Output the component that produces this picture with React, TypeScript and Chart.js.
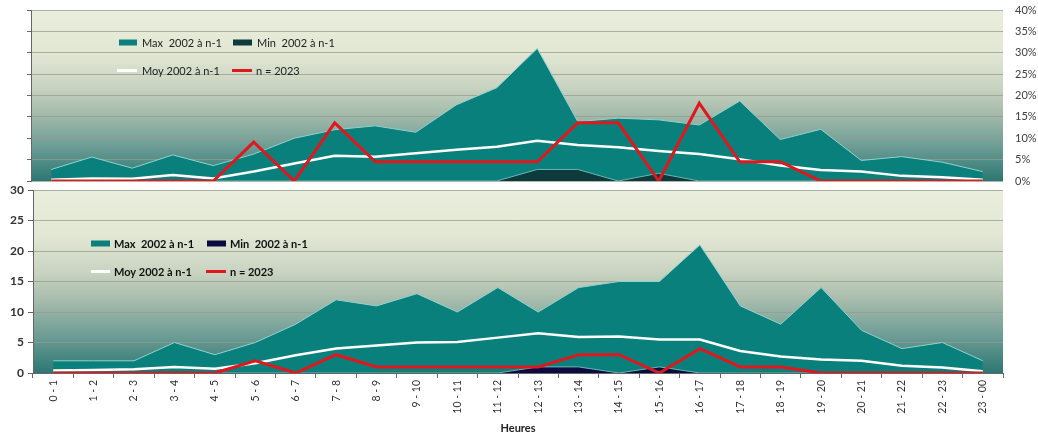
import React, { useEffect, useRef } from "react";
import { Chart, registerables } from "chart.js";

Chart.register(...registerables);

// ---------- DATA ----------
const hours = [
  "0 - 1", "1 - 2", "2 - 3", "3 - 4", "4 - 5", "5 - 6", "6 - 7", "7 - 8",
  "8 - 9", "9 - 10", "10 - 11", "11 - 12", "12 - 13", "13 - 14", "14 - 15",
  "15 - 16", "16 - 17", "17 - 18", "18 - 19", "19 - 20", "20 - 21", "21 - 22",
  "22 - 23", "23 - 00",
];

const seriesLabels = ["Max  2002 à n-1", "Min  2002 à n-1", "Moy 2002 à n-1", "n = 2023"];

// Top panel (percent of yearly total)
const topMax = [2.7, 5.6, 3.0, 6.1, 3.6, 6.3, 10.0, 12.0, 12.9, 11.4, 17.8, 21.8, 31.0, 13.9, 14.7, 14.3, 13.1, 18.7, 9.7, 12.1, 4.8, 5.7, 4.4, 2.2];
const topMin = [0, 0, 0, 0, 0, 0, 0, 0, 0, 0, 0, 0, 2.7, 2.7, 0, 1.8, 0, 0, 0, 0, 0, 0, 0, 0];
const topMoy = [0.3, 0.6, 0.5, 1.4, 0.6, 2.2, 4.1, 5.9, 5.7, 6.5, 7.3, 8.0, 9.4, 8.4, 7.9, 7.0, 6.3, 5.1, 3.6, 2.6, 2.2, 1.2, 0.9, 0.3];
const topN = [0, 0, 0, 0, 0, 9.1, 0, 13.6, 4.5, 4.5, 4.5, 4.5, 4.5, 13.6, 13.6, 0, 18.2, 4.5, 4.5, 0, 0, 0, 0, 0];

// Bottom panel (counts)
const botMax = [2, 2, 2, 5, 3, 5, 8, 12, 11, 13, 10, 14, 10, 14, 15, 15, 21, 11, 8, 14, 7, 4, 5, 2];
const botMin = [0, 0, 0, 0, 0, 0, 0, 0, 0, 0, 0, 0, 1, 1, 0, 1, 0, 0, 0, 0, 0, 0, 0, 0];
const botMoy = [0.4, 0.5, 0.6, 1.0, 0.7, 1.6, 2.9, 4.0, 4.5, 5.0, 5.1, 5.8, 6.5, 5.9, 6.0, 5.5, 5.5, 3.6, 2.7, 2.2, 2.0, 1.2, 0.9, 0.3];
const botN = [0, 0, 0, 0, 0, 2, 0, 3, 1, 1, 1, 1, 1, 3, 3, 0, 4, 1, 1, 0, 0, 0, 0, 0];

const topTicksMax = 40;
const botTicksMax = 30;

// ---------- STYLE ----------
const FONT = "Lato, 'Open Sans', sans-serif";
const TEAL = "#0a807c";
const TEAL_EDGE = "#8fd2ce";
const MIN_TOP = "#0d3a3a";
const MIN_BOT = "#0b0b40";
const RED = "#e0171c";
const GRID = "rgba(150,156,140,0.75)";
const AXIS = "#666666";

const bgPlugin = {
  id: "bgGradient",
  beforeDraw(chart: any) {
    const { ctx, chartArea: a } = chart;
    if (!a) return;
    const g = ctx.createLinearGradient(0, a.top, 0, a.bottom);
    g.addColorStop(0, "#eaeedc");
    g.addColorStop(0.25, "#e2e7d4");
    g.addColorStop(0.45, "#c9d3c1");
    g.addColorStop(0.6, "#a7bcac");
    g.addColorStop(0.8, "#6c9c95");
    g.addColorStop(1, "#2c7772");
    ctx.save();
    ctx.fillStyle = g;
    ctx.fillRect(a.left, a.top, a.right - a.left, a.bottom - a.top);
    ctx.restore();
  },
};

type LegendItem = { ds: number; kind: "box" | "line"; x: number; w: number; y: number; tx: number };

function makeLegend(items: LegendItem[], font: string, color: string) {
  return {
    id: "insideLegend",
    afterDraw(chart: any) {
      const { ctx } = chart;
      ctx.save();
      ctx.font = font;
      ctx.textBaseline = "middle";
      ctx.textAlign = "left";
      for (const it of items) {
        const ds = chart.data.datasets[it.ds];
        if (it.kind === "box") {
          ctx.fillStyle = ds.backgroundColor;
          ctx.fillRect(it.x, it.y - 3, it.w, 6);
        } else {
          ctx.strokeStyle = ds.borderColor;
          ctx.lineWidth = 3;
          ctx.beginPath();
          ctx.moveTo(it.x, it.y);
          ctx.lineTo(it.x + it.w, it.y);
          ctx.stroke();
        }
        ctx.fillStyle = color;
        ctx.fillText(ds.label, it.tx, it.y + 0.5);
      }
      ctx.restore();
    },
  };
}

function datasets(max: number[], min: number[], moy: number[], n: number[], minColor: string) {
  return [
    { label: seriesLabels[0], data: max, fill: "origin", backgroundColor: TEAL, borderColor: TEAL_EDGE, borderWidth: 1, pointRadius: 0, tension: 0, order: 4 },
    { label: seriesLabels[1], data: min, fill: "origin", backgroundColor: minColor, borderColor: "#6fb3b3", borderWidth: 1, pointRadius: 0, tension: 0, order: 3 },
    { label: seriesLabels[2], data: moy, fill: false, borderColor: "#ffffff", borderWidth: 2.5, pointRadius: 0, tension: 0, order: 2 },
    { label: seriesLabels[3], data: n, fill: false, borderColor: RED, borderWidth: 3, pointRadius: 0, tension: 0, order: 1 },
  ];
}

export default function App() {
  const topRef = useRef<HTMLCanvasElement>(null);
  const botRef = useRef<HTMLCanvasElement>(null);

  useEffect(() => {
    const topLegend = makeLegend(
      [
        { ds: 0, kind: "box", x: 119, w: 18, y: 42.5, tx: 142 },
        { ds: 1, kind: "box", x: 233, w: 19, y: 42.5, tx: 257 },
        { ds: 2, kind: "line", x: 117, w: 20, y: 70.5, tx: 142 },
        { ds: 3, kind: "line", x: 232, w: 20, y: 70.5, tx: 256 },
      ],
      `11px ${FONT}`,
      "#222222"
    );
    const botLegend = makeLegend(
      [
        { ds: 0, kind: "box", x: 91, w: 19, y: 63.5, tx: 114 },
        { ds: 1, kind: "box", x: 207, w: 19, y: 63.5, tx: 230 },
        { ds: 2, kind: "line", x: 91, w: 19, y: 91.5, tx: 114 },
        { ds: 3, kind: "line", x: 206, w: 20, y: 91.5, tx: 230 },
      ],
      `bold 11px ${FONT}`,
      "#111111"
    );

    const top = new Chart(topRef.current as HTMLCanvasElement, {
      type: "line",
      data: { labels: hours, datasets: datasets(topMax, topMin, topMoy, topN, MIN_TOP) as any },
      options: {
        animation: false,
        responsive: true,
        maintainAspectRatio: false,
        layout: { padding: { top: 10, bottom: 9, left: 0, right: 0 } },
        plugins: { legend: { display: false }, tooltip: { enabled: false } },
        scales: {
          x: { type: "category", offset: true, display: false },
          yL: {
            position: "left",
            min: 0,
            max: topTicksMax,
            ticks: { display: false, stepSize: 5 },
            grid: { drawOnChartArea: false, tickLength: 4, tickColor: AXIS },
            border: { color: AXIS },
            afterFit(s: any) { s.width = 31; s.paddingTop = 0; s.paddingBottom = 0; },
          },
          y: {
            position: "right",
            min: 0,
            max: topTicksMax,
            ticks: {
              stepSize: 5,
              callback: (v: any) => v + "%",
              font: { family: FONT, size: 11 },
              color: "#404040",
              padding: 12,
            },
            grid: { color: GRID, drawTicks: false },
            border: { display: false },
            afterFit(s: any) { s.width = 35; s.paddingTop = 0; s.paddingBottom = 0; },
          },
        } as any,
      },
      plugins: [bgPlugin, topLegend],
    });

    const bot = new Chart(botRef.current as HTMLCanvasElement, {
      type: "line",
      data: { labels: hours, datasets: datasets(botMax, botMin, botMoy, botN, MIN_BOT) as any },
      options: {
        animation: false,
        responsive: true,
        maintainAspectRatio: false,
        layout: { padding: { top: 10, bottom: 0, left: 0, right: 35 } },
        plugins: { legend: { display: false }, tooltip: { enabled: false } },
        scales: {
          x: {
            type: "category",
            offset: true,
            grid: { drawOnChartArea: false, tickLength: 5, tickColor: AXIS, offset: true },
            border: { color: AXIS },
            ticks: {
              minRotation: 90,
              maxRotation: 90,
              autoSkip: false,
              font: { family: FONT, size: 10.5 },
              color: "#333333",
              padding: 2,
            },
            title: {
              display: true,
              text: "Heures",
              font: { family: FONT, size: 11, weight: "bold" },
              color: "#222222",
              padding: { top: 0, bottom: 2 },
            },
            afterFit(s: any) { s.height = 64; s.paddingLeft = 0; s.paddingRight = 0; },
          },
          y: {
            position: "left",
            min: 0,
            max: botTicksMax,
            ticks: {
              stepSize: 5,
              font: { family: FONT, size: 12, weight: "bold" },
              color: "#333333",
              padding: 4,
            },
            grid: { color: GRID, tickLength: 5, tickColor: AXIS },
            border: { color: AXIS },
            afterFit(s: any) { s.width = 33; s.paddingTop = 0; s.paddingBottom = 0; },
          },
        } as any,
      },
      plugins: [bgPlugin, botLegend],
    });

    return () => {
      top.destroy();
      bot.destroy();
    };
  }, []);

  return (
    <div style={{ position: "absolute", left: 0, top: 0, width: 1038, height: 437, background: "#ffffff" }}>
      <div style={{ position: "absolute", left: 0, top: 0, width: 1038, height: 190 }}>
        <canvas ref={topRef} />
      </div>
      <div style={{ position: "absolute", left: 0, top: 180, width: 1038, height: 257 }}>
        <canvas ref={botRef} />
      </div>
    </div>
  );
}
